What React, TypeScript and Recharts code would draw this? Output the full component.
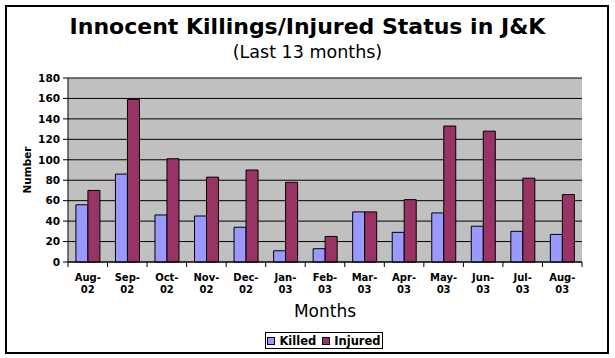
import React from "react";
import { BarChart, Bar, XAxis, YAxis, CartesianGrid, Label } from "recharts";

const months = ["Aug-02", "Sep-02", "Oct-02", "Nov-02", "Dec-02", "Jan-03", "Feb-03", "Mar-03", "Apr-03", "May-03", "Jun-03", "Jul-03", "Aug-03"];
const killed = [56, 86, 46, 45, 34, 11, 13, 49, 29, 48, 35, 30, 27];
const injured = [70, 159, 101, 83, 90, 78, 25, 49, 61, 133, 128, 82, 66];
const yTicks = [0, 20, 40, 60, 80, 100, 120, 140, 160, 180];

const data = months.map((m, i) => ({ month: m, Killed: killed[i], Injured: injured[i] }));

const W = 615;
const H = 358;
const M_TOP = 78;
const M_RIGHT = 33;
const Y_W = 68;
const X_H = 96;
const BAND = (W - M_RIGHT - Y_W) / months.length;
const FONT = "'DejaVu Sans', Verdana, sans-serif";
const KILLED_C = "#9999ff";
const INJURED_C = "#993366";

const XTick = (props: any) => {
  const { x, y, payload, index } = props;
  const v: string = payload.value;
  const i = v.indexOf("-");
  const top = v.slice(0, i + 1);
  const bot = v.slice(i + 1);
  const last = index === months.length - 1;
  return (
    <g>
      <line x1={x - BAND / 2} x2={x - BAND / 2} y1={y} y2={y + 5} stroke="#000" />
      {last && <line x1={x + BAND / 2} x2={x + BAND / 2} y1={y} y2={y + 5} stroke="#000" />}
      <text x={x} y={y + 18.5} textAnchor="middle" fontFamily={FONT} fontWeight="bold" fontSize={10} fill="#000">
        {top}
      </text>
      <text x={x} y={y + 31} textAnchor="middle" fontFamily={FONT} fontWeight="bold" fontSize={10} fill="#000">
        {bot}
      </text>
    </g>
  );
};

export default function App() {
  return (
    <div style={{ position: "absolute", left: 0, top: 0, width: W, height: H, background: "#fff", fontFamily: FONT }}>
      <div
        style={{
          position: "absolute",
          left: 5,
          top: 5,
          width: 600,
          height: 345,
          border: "2px solid #000",
        }}
      />
      <div
        style={{
          position: "absolute",
          left: 0,
          width: W,
          top: 13,
          textAlign: "center",
          fontSize: 22,
          fontWeight: "bold",
          lineHeight: "28px",
          color: "#000",
        }}
      >
        Innocent Killings/Injured Status in J&amp;K
      </div>
      <div
        style={{
          position: "absolute",
          left: 0,
          width: W,
          top: 41,
          textAlign: "center",
          fontSize: 17.5,
          lineHeight: "22px",
          color: "#000",
        }}
      >
        (Last 13 months)
      </div>
      <div style={{ position: "absolute", left: 0, top: 0 }}>
        <BarChart
          width={W}
          height={H}
          data={data}
          margin={{ top: M_TOP, right: M_RIGHT, left: 0, bottom: 0 }}
          barCategoryGap="20%"
          barGap={0}
        >
          <CartesianGrid fill="#c0c0c0" stroke="#000" vertical={false} />
          <XAxis
            dataKey="month"
            height={X_H}
            interval={0}
            tickSize={0}
            tickMargin={0}
            tickLine={false}
            axisLine={{ stroke: "#000" }}
            tick={<XTick />}
          >
            <Label value="Months" position="insideTop" offset={43} fontFamily={FONT} fontSize={17} fill="#000" />
          </XAxis>
          <XAxis
            xAxisId="top"
            dataKey="month"
            orientation="top"
            height={0}
            tick={false}
            tickLine={false}
            axisLine={{ stroke: "#808080" }}
          />
          <YAxis
            width={Y_W}
            domain={[0, 180]}
            ticks={yTicks}
            interval={0}
            tickSize={5}
            tickMargin={3}
            axisLine={{ stroke: "#000" }}
            tickLine={{ stroke: "#000" }}
            tick={{ fill: "#000", fontFamily: FONT, fontWeight: "bold", fontSize: 10.5 }}
          >
            <Label
              value="Number"
              angle={-90}
              position="insideLeft"
              offset={27}
              fontFamily={FONT}
              fontWeight="bold"
              fontSize={10.5}
              fill="#000"
              style={{ textAnchor: "middle" }}
            />
          </YAxis>
          <YAxis
            yAxisId="right"
            orientation="right"
            width={0}
            domain={[0, 180]}
            tick={false}
            tickLine={false}
            axisLine={{ stroke: "#808080" }}
          />
          <Bar dataKey="Killed" fill={KILLED_C} stroke="#000" strokeWidth={1} isAnimationActive={false} />
          <Bar dataKey="Injured" fill={INJURED_C} stroke="#000" strokeWidth={1} isAnimationActive={false} />
        </BarChart>
      </div>
      <div
        style={{
          position: "absolute",
          left: 265,
          top: 332,
          width: 116,
          height: 15,
          border: "1.5px solid #000",
          display: "flex",
          alignItems: "center",
          justifyContent: "center",
          fontSize: 11.5,
          fontWeight: "bold",
          color: "#000",
          gap: 4,
          boxSizing: "content-box",
        }}
      >
        <span style={{ display: "inline-block", width: 6, height: 6, background: KILLED_C, border: "1px solid #000" }} />
        <span>Killed</span>
        <span style={{ display: "inline-block", width: 6, height: 6, background: INJURED_C, border: "1px solid #000", marginLeft: 2 }} />
        <span>Injured</span>
      </div>
    </div>
  );
}
